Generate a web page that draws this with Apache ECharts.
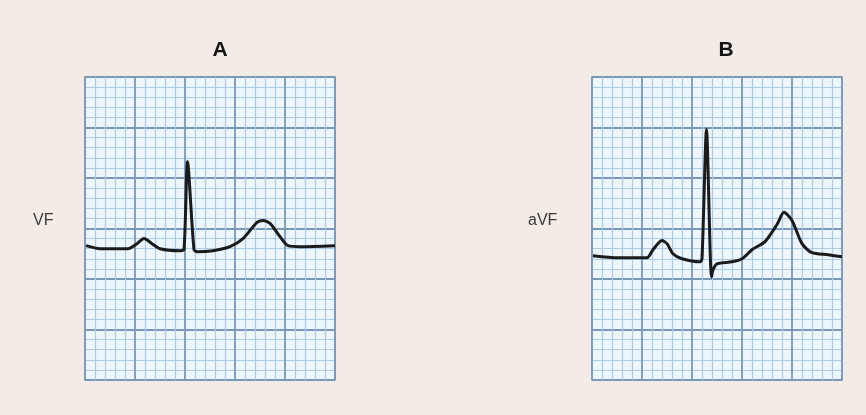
<!DOCTYPE html>
<html>
<head>
<meta charset="utf-8">
<script src="https://cdn.jsdelivr.net/npm/echarts@6/dist/echarts.min.js"></script>
<style>
  html, body { margin: 0; padding: 0; background: #f2ebe6; }
  #chart { width: 866px; height: 415px; }
</style>
</head>
<body>
<div id="chart"></div>
<script>
// panel labels
const panelTitles = ["A", "B"];
const leadNames = ["VF", "aVF"];

// trace A (lead VF), x in small squares, y in small squares
const traceAx = [0.1, 1.5, 4.3, 5.2, 5.9, 6.7, 7.5, 9.5, 9.9, 10.25, 10.9, 11.2, 12.8, 14.5, 15.8, 17.2, 17.8, 18.5, 19.5, 20.3, 21.5, 25];
const traceAy = [13.3, 13.0, 13.0, 13.5, 14.0, 13.5, 13.0, 12.8, 12.9, 21.6, 12.9, 12.7, 12.8, 13.2, 14.0, 15.6, 15.8, 15.5, 14.2, 13.3, 13.2, 13.3];

// trace B (lead aVF)
const traceBx = [0.1, 2.6, 5.5, 6.1, 7.0, 7.5, 8.1, 9.0, 10.8, 11.0, 11.45, 11.95, 12.1, 12.5, 14.0, 15.0, 16.0, 17.3, 18.5, 19.2, 20.0, 21.0, 22.0, 23.6, 25];
const traceBy = [12.3, 12.1, 12.1, 12.9, 13.8, 13.5, 12.5, 12.0, 11.7, 12.0, 24.8, 10.2, 10.9, 11.5, 11.7, 12.0, 12.9, 13.7, 15.4, 16.6, 15.8, 13.5, 12.6, 12.4, 12.2];

const zip = (xs, ys) => xs.map((x, i) => [x, ys[i]]);

const majorColor = "#7a98ba";
const minorColor = "#aecbe5";
const paperColor = "#edf6fc";

const makeAxis = (idx, max) => ({
    type: "value",
    gridIndex: idx,
    min: 0,
    max: max,
    interval: 5,
    axisLabel: { show: false },
    axisTick: { show: false },
    axisLine: { show: false },
    splitLine: { show: true, lineStyle: { color: majorColor, width: 1.8 } },
    minorTick: { show: false, splitNumber: 5 },
    minorSplitLine: { show: true, lineStyle: { color: minorColor, width: 1.2 } }
});

const lineSeries = (idx, xs, ys) => ({
    name: leadNames[idx],
    type: "line",
    xAxisIndex: idx,
    yAxisIndex: idx,
    data: zip(xs, ys),
    showSymbol: false,
    smooth: 0.25,
    lineStyle: { color: "#1b1b1b", width: 3, join: "round" }
});

const chart = echarts.init(document.getElementById("chart"));
chart.setOption({
    backgroundColor: "#f2ebe6",
    animation: false,
    title: [
        { text: panelTitles[0], left: 215, top: 35, textAlign: "center",
          textStyle: { fontSize: 21, fontWeight: "bold", color: "#151515", fontFamily: "Liberation Sans" } },
        { text: panelTitles[1], left: 721, top: 35, textAlign: "center",
          textStyle: { fontSize: 21, fontWeight: "bold", color: "#151515", fontFamily: "Liberation Sans" } },
        { text: leadNames[0], left: 28, top: 208,
          textStyle: { fontSize: 16, fontWeight: "normal", color: "#3a3a3a", fontFamily: "Liberation Sans" } },
        { text: leadNames[1], left: 523, top: 208,
          textStyle: { fontSize: 16, fontWeight: "normal", color: "#3a3a3a", fontFamily: "Liberation Sans" } }
    ],
    grid: [
        { left: 85, top: 77, width: 250, height: 303, show: true, backgroundColor: paperColor, borderColor: "#8aa2bd", borderWidth: 1.5 },
        { left: 592, top: 77, width: 250, height: 303, show: true, backgroundColor: paperColor, borderColor: "#8aa2bd", borderWidth: 1.5 }
    ],
    xAxis: [makeAxis(0, 25), makeAxis(1, 25)],
    yAxis: [makeAxis(0, 30), makeAxis(1, 30)],
    series: [
        lineSeries(0, traceAx, traceAy),
        lineSeries(1, traceBx, traceBy)
    ]
});
</script>
</body>
</html>
